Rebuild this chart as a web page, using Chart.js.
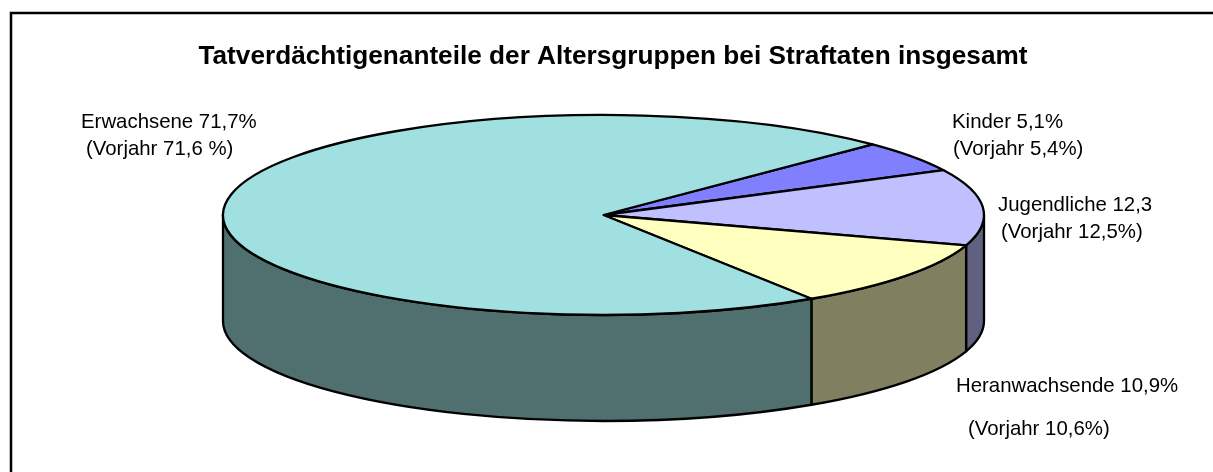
<!DOCTYPE html>
<html>
<head>
<meta charset="utf-8">
<title>Tatverdächtigenanteile der Altersgruppen</title>
<script src="https://cdn.jsdelivr.net/npm/chart.js@4.4.0/dist/chart.umd.min.js"></script>
<style>
  html, body { margin: 0; padding: 0; background: #ffffff; }
  #wrap { position: relative; width: 1213px; height: 472px; }
</style>
</head>
<body>
<div id="wrap"><canvas id="pie" width="1213" height="472"></canvas></div>
<script>
// Chart data
const chartTitle = 'Tatverdächtigenanteile der Altersgruppen bei Straftaten insgesamt';
const categories = ['Kinder', 'Jugendliche', 'Heranwachsende', 'Erwachsene'];
const shares = [5.1, 12.3, 10.9, 71.7];
const labelLines = [
    ['Kinder 5,1%', '(Vorjahr 5,4%)'],
    ['Jugendliche 12,3', '(Vorjahr 12,5%)'],
    ['Heranwachsende 10,9%', '(Vorjahr 10,6%)'],
    ['Erwachsene 71,7%', '(Vorjahr 71,6 %)']
];

// Colours: top face and the darker outer wall
const topColors = ['#8080ff', '#c0c0ff', '#ffffc0', '#a0e0e0'];
const sideColors = ['#404080', '#606080', '#808060', '#507070'];

// Label anchors (left x, baseline y) per line
const labelAnchors = [
    [[952, 128], [953, 155]],
    [[998, 211], [1001, 238]],
    [[956, 392], [968, 435]],
    [[81, 128], [86, 155]]
];

const FONT = "'Liberation Sans', Arial, sans-serif";

/**
 * Draws the doughnut arcs as a tilted 3D pie (ellipse top + front wall)
 */
const pie3d = {
    id: 'pie3d',

    beforeDraw(chart) {
        // frame: top and left edges only
        const ctx = chart.ctx;
        ctx.save();
        ctx.strokeStyle = '#000';
        ctx.lineWidth = 2.5;
        ctx.beginPath();
        ctx.moveTo(1213, 13);
        ctx.lineTo(11, 13);
        ctx.lineTo(11, 472);
        ctx.stroke();
        ctx.restore();
    },

    beforeDatasetsDraw(chart, args, opts) {
        const ctx = chart.ctx;
        const area = chart.chartArea;
        const arcs = chart.getDatasetMeta(0).data;
        const cx = arcs[0].x;
        const cy = arcs[0].y;
        const ry = arcs[0].outerRadius;
        const rx = ry * area.width / area.height;
        const depth = ry * opts.depthRatio;

        ctx.save();
        ctx.lineWidth = 2.3;
        ctx.lineJoin = 'round';
        ctx.strokeStyle = '#000';

        // outer walls, only the front half (0..PI) is visible
        arcs.forEach((arc, i) => {
            const s = arc.startAngle;
            const e = arc.endAngle;
            for (let k = -2; k <= 2; k++) {
                const lo = Math.max(s, 2 * Math.PI * k);
                const hi = Math.min(e, 2 * Math.PI * k + Math.PI);
                if (hi <= lo) continue;
                ctx.beginPath();
                ctx.ellipse(cx, cy, rx, ry, 0, lo, hi, false);
                ctx.lineTo(cx + rx * Math.cos(hi), cy + ry * Math.sin(hi) + depth);
                ctx.ellipse(cx, cy + depth, rx, ry, 0, hi, lo, true);
                ctx.closePath();
                ctx.fillStyle = sideColors[i];
                ctx.fill();
                ctx.stroke();
            }
        });

        // top faces
        arcs.forEach((arc, i) => {
            ctx.beginPath();
            ctx.moveTo(cx, cy);
            ctx.ellipse(cx, cy, rx, ry, 0, arc.startAngle, arc.endAngle, false);
            ctx.closePath();
            ctx.fillStyle = topColors[i];
            ctx.fill();
            ctx.stroke();
        });

        ctx.restore();
        return false; // skip the flat arcs
    },

    afterDraw(chart) {
        const ctx = chart.ctx;
        ctx.save();
        ctx.fillStyle = '#000';
        ctx.textBaseline = 'alphabetic';

        ctx.font = 'bold 26.2px ' + FONT;
        ctx.textAlign = 'center';
        ctx.fillText(chartTitle, 613, 64);

        ctx.font = '20.4px ' + FONT;
        ctx.textAlign = 'left';
        labelLines.forEach((lines, i) => {
            lines.forEach((line, j) => {
                const [x, y] = labelAnchors[i][j];
                ctx.fillText(line, x, y);
            });
        });
        ctx.restore();
    }
};

const chart = new Chart(document.getElementById('pie'), {
    type: 'pie',
    data: {
        labels: categories,
        datasets: [{
            data: shares,
            backgroundColor: topColors,
            borderWidth: 0
        }]
    },
    options: {
        responsive: false,
        animation: false,
        events: [],
        rotation: 45,
        layout: {
            padding: { left: 223, right: 229, top: 115, bottom: 157 }
        },
        plugins: {
            legend: { display: false },
            title: { display: false },
            tooltip: { enabled: false },
            pie3d: { depthRatio: 1.06 }
        }
    },
    plugins: [pie3d]
});
</script>
</body>
</html>
